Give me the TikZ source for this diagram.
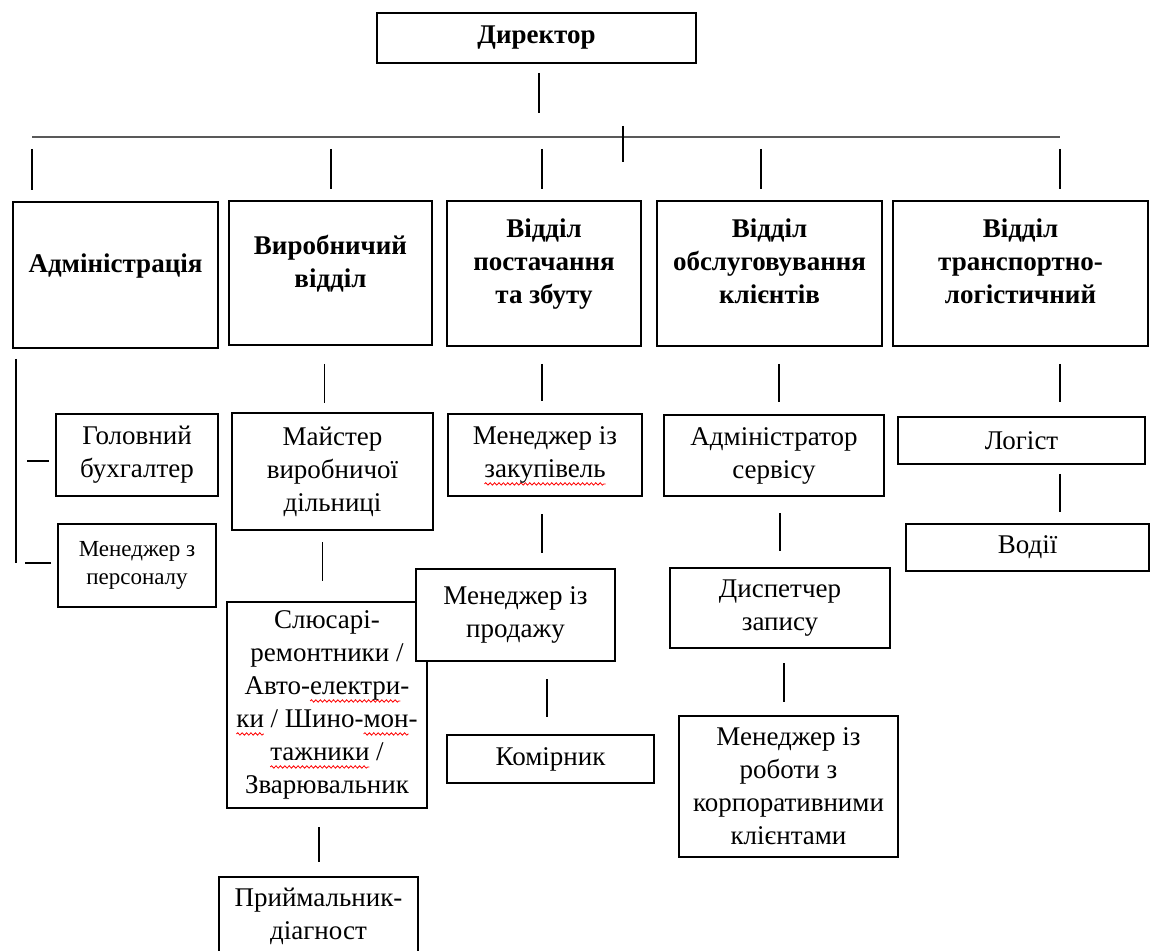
\documentclass[tikz,border=0pt]{standalone}
\usepackage{fontspec}
\setmainfont{Liberation Serif}
\usetikzlibrary{decorations.pathmorphing}

\newdimen\wavelen
% red wavy underline, as left by the spell checker
\newcommand{\redwave}[1]{\setbox0=\hbox{#1}\wavelen=\wd0
  \rlap{\tikz[overlay]\draw[spell] (0pt,-3.2pt) -- (\wavelen,-3.2pt);}#1}

\tikzset{
  box/.style={draw, fill=white, line width=1pt, align=center, inner sep=2pt,
    font=\fontsize{13.5}{16.5}\selectfont},
  head/.style={box, font=\bfseries\fontsize{13.5}{16.5}\selectfont,
    execute at end node={\rule[-12pt]{0pt}{12pt}}},
  small/.style={box, font=\fontsize{11.5}{14}\selectfont},
  link/.style={line width=0.75pt},
  bus/.style={line width=1.4pt, black!65},
  spell/.style={red, line width=0.4pt, decorate,
    decoration={snake, amplitude=0.6pt, segment length=2.2pt}}
}

\begin{document}
\begin{tikzpicture}[x=0.5pt, y=-0.5pt]
  \fill[white] (0,0) rectangle (1150,951);
  \useasboundingbox (0,0) rectangle (1150,951);

  % top
  \node[box, font=\bfseries\fontsize{13.5}{16.5}\selectfont,
    minimum width=159.5pt, minimum height=25pt] (dir) at (536.5,38) {Директор};

  % departments
  \node[head, minimum width=102.5pt, minimum height=73pt] (adm) at (115.5,275) {Адміністрація};
  \node[head, minimum width=101.5pt, minimum height=72pt] (vyr) at (330.5,273) {Виробничий\\відділ};
  \node[head, minimum width=97pt, minimum height=72.5pt] (post) at (544,273.5) {Відділ\\постачання\\та збуту};
  \node[head, minimum width=112.5pt, minimum height=72.5pt] (obs) at (769.5,273.5) {Відділ\\обслуговування\\клієнтів};
  \node[head, minimum width=127.5pt, minimum height=72.5pt] (trans) at (1020.5,273.5) {Відділ\\транспортно-\\логістичний};

  % staff
  \node[box, minimum width=81pt, minimum height=41pt] (buh) at (137,455) {Головний\\бухгалтер};
  \node[small, minimum width=79pt, minimum height=41.5pt] (pers) at (137,565.5) {Менеджер з\\персоналу};
  \node[box, minimum width=100.5pt, minimum height=58.5pt] (majst) at (332.5,471.5) {Майстер\\виробничої\\дільниці};
  \node[box, minimum width=100pt, minimum height=103pt] (slyus) at (327,705)
    {Слюсарі-\\ремонтники /\\Авто-\redwave{електри}-\\\redwave{ки} / Шино-\redwave{мон}-\\\redwave{тажники} /\\Зварювальник};
  \node[box, minimum width=99.5pt, minimum height=39pt] (pryim) at (318.5,916) {Приймальник-\\діагност};
  \node[box, minimum width=97pt, minimum height=41pt] (zak) at (545,455) {Менеджер із\\\redwave{закупівель}};
  \node[box, minimum width=99.5pt, minimum height=46pt] (prod) at (515.5,615) {Менеджер із\\продажу};
  \node[box, minimum width=103.5pt, minimum height=24pt] (komir) at (550.5,759) {Комірник};
  \node[box, minimum width=110pt, minimum height=40.5pt] (admserv) at (774,455.5) {Адміністратор\\сервісу};
  \node[box, minimum width=110pt, minimum height=40pt] (disp) at (780,608) {Диспетчер\\запису};
  \node[box, minimum width=109.5pt, minimum height=70.5pt] (korp) at (788.5,786.5) {Менеджер із\\роботи з\\корпоративними\\клієнтами};
  \node[box, minimum width=123.5pt, minimum height=23.5pt] (log) at (1021.5,440.5) {Логіст};
  \node[box, minimum width=121.5pt, minimum height=23.5pt] (vodii) at (1027.5,547.5) {Водії};

  % bus under the director
  \coordinate (busL) at (32,137);
  \coordinate (b2) at (331,137);
  \coordinate (b3) at (542,137);
  \coordinate (b4) at (761,137);
  \coordinate (busR) at (1060,137);
  \coordinate (tick) at (623,137);
  \draw[link, shorten <=4.5pt, shorten >=12pt] ([xshift=1.25pt]dir.south) -- ([xshift=1.25pt]dir.south |- busL);
  \draw[bus] (busL) -- (busR);
  \draw[link] ([yshift=5.5pt]tick) -- ([yshift=-12.5pt]tick);
  \foreach \b/\d in {busL/adm, b2/vyr, b3/post, b4/obs, busR/trans}
    \draw[link, shorten <=6pt, shorten >=5.5pt] (\b) -- (\b |- \d.north);

  % administration
  \coordinate (admcorner) at (16,563);
  \draw[link, shorten <=5pt] (admcorner |- adm.south) -- (admcorner);
  \draw[link, shorten <=3pt, shorten >=5.5pt] ([yshift=-3pt]buh.west) -- ([yshift=-3pt]buh.west -| admcorner);
  \draw[link, shorten <=3pt, shorten >=4.5pt] ([yshift=1.25pt]pers.west) -- (admcorner);

  % production
  \draw[link, shorten <=9pt, shorten >=4.5pt] ([xshift=-3pt]vyr.south) -- ([xshift=-3pt]vyr.south |- majst.north);
  \draw[link, shorten <=5.5pt, shorten >=10pt] ([xshift=-5pt]majst.south) -- ([xshift=-5pt]majst.south |- slyus.north);
  \draw[link, shorten <=9pt, shorten >=7pt] ([xshift=-4pt]slyus.south) -- ([xshift=-4pt]slyus.south |- pryim.north);

  % supply and sales
  \draw[link, shorten <=8.5pt, shorten >=6pt] ([xshift=-1pt]post.south) -- ([xshift=-1pt]post.south |- zak.north);
  \draw[link, shorten <=8.5pt, shorten >=7.5pt] ([xshift=-1.5pt]zak.south) -- ([xshift=-1.5pt]zak.south |- prod.north);
  \draw[link, shorten <=8.5pt, shorten >=8.5pt] ([xshift=-1.75pt]komir.north |- prod.south) -- ([xshift=-1.75pt]komir.north);

  % client service
  \draw[link, shorten <=8.5pt, shorten >=6pt] ([xshift=2.5pt]admserv.north |- obs.south) -- ([xshift=2.5pt]admserv.north);
  \draw[link, shorten <=8pt, shorten >=8pt] ([xshift=3pt]admserv.south) -- ([xshift=3pt]admserv.south |- disp.north);
  \draw[link, shorten <=7pt, shorten >=6.5pt] ([xshift=2pt]disp.south) -- ([xshift=2pt]disp.south |- korp.north);

  % transport and logistics
  \draw[link, shorten <=8.5pt, shorten >=7pt] ([xshift=19.25pt]log.north |- trans.south) -- ([xshift=19.25pt]log.north);
  \draw[link, shorten <=4.5pt, shorten >=5.5pt] ([xshift=19.25pt]log.south) -- ([xshift=19.25pt]log.south |- vodii.north);
\end{tikzpicture}
\end{document}
